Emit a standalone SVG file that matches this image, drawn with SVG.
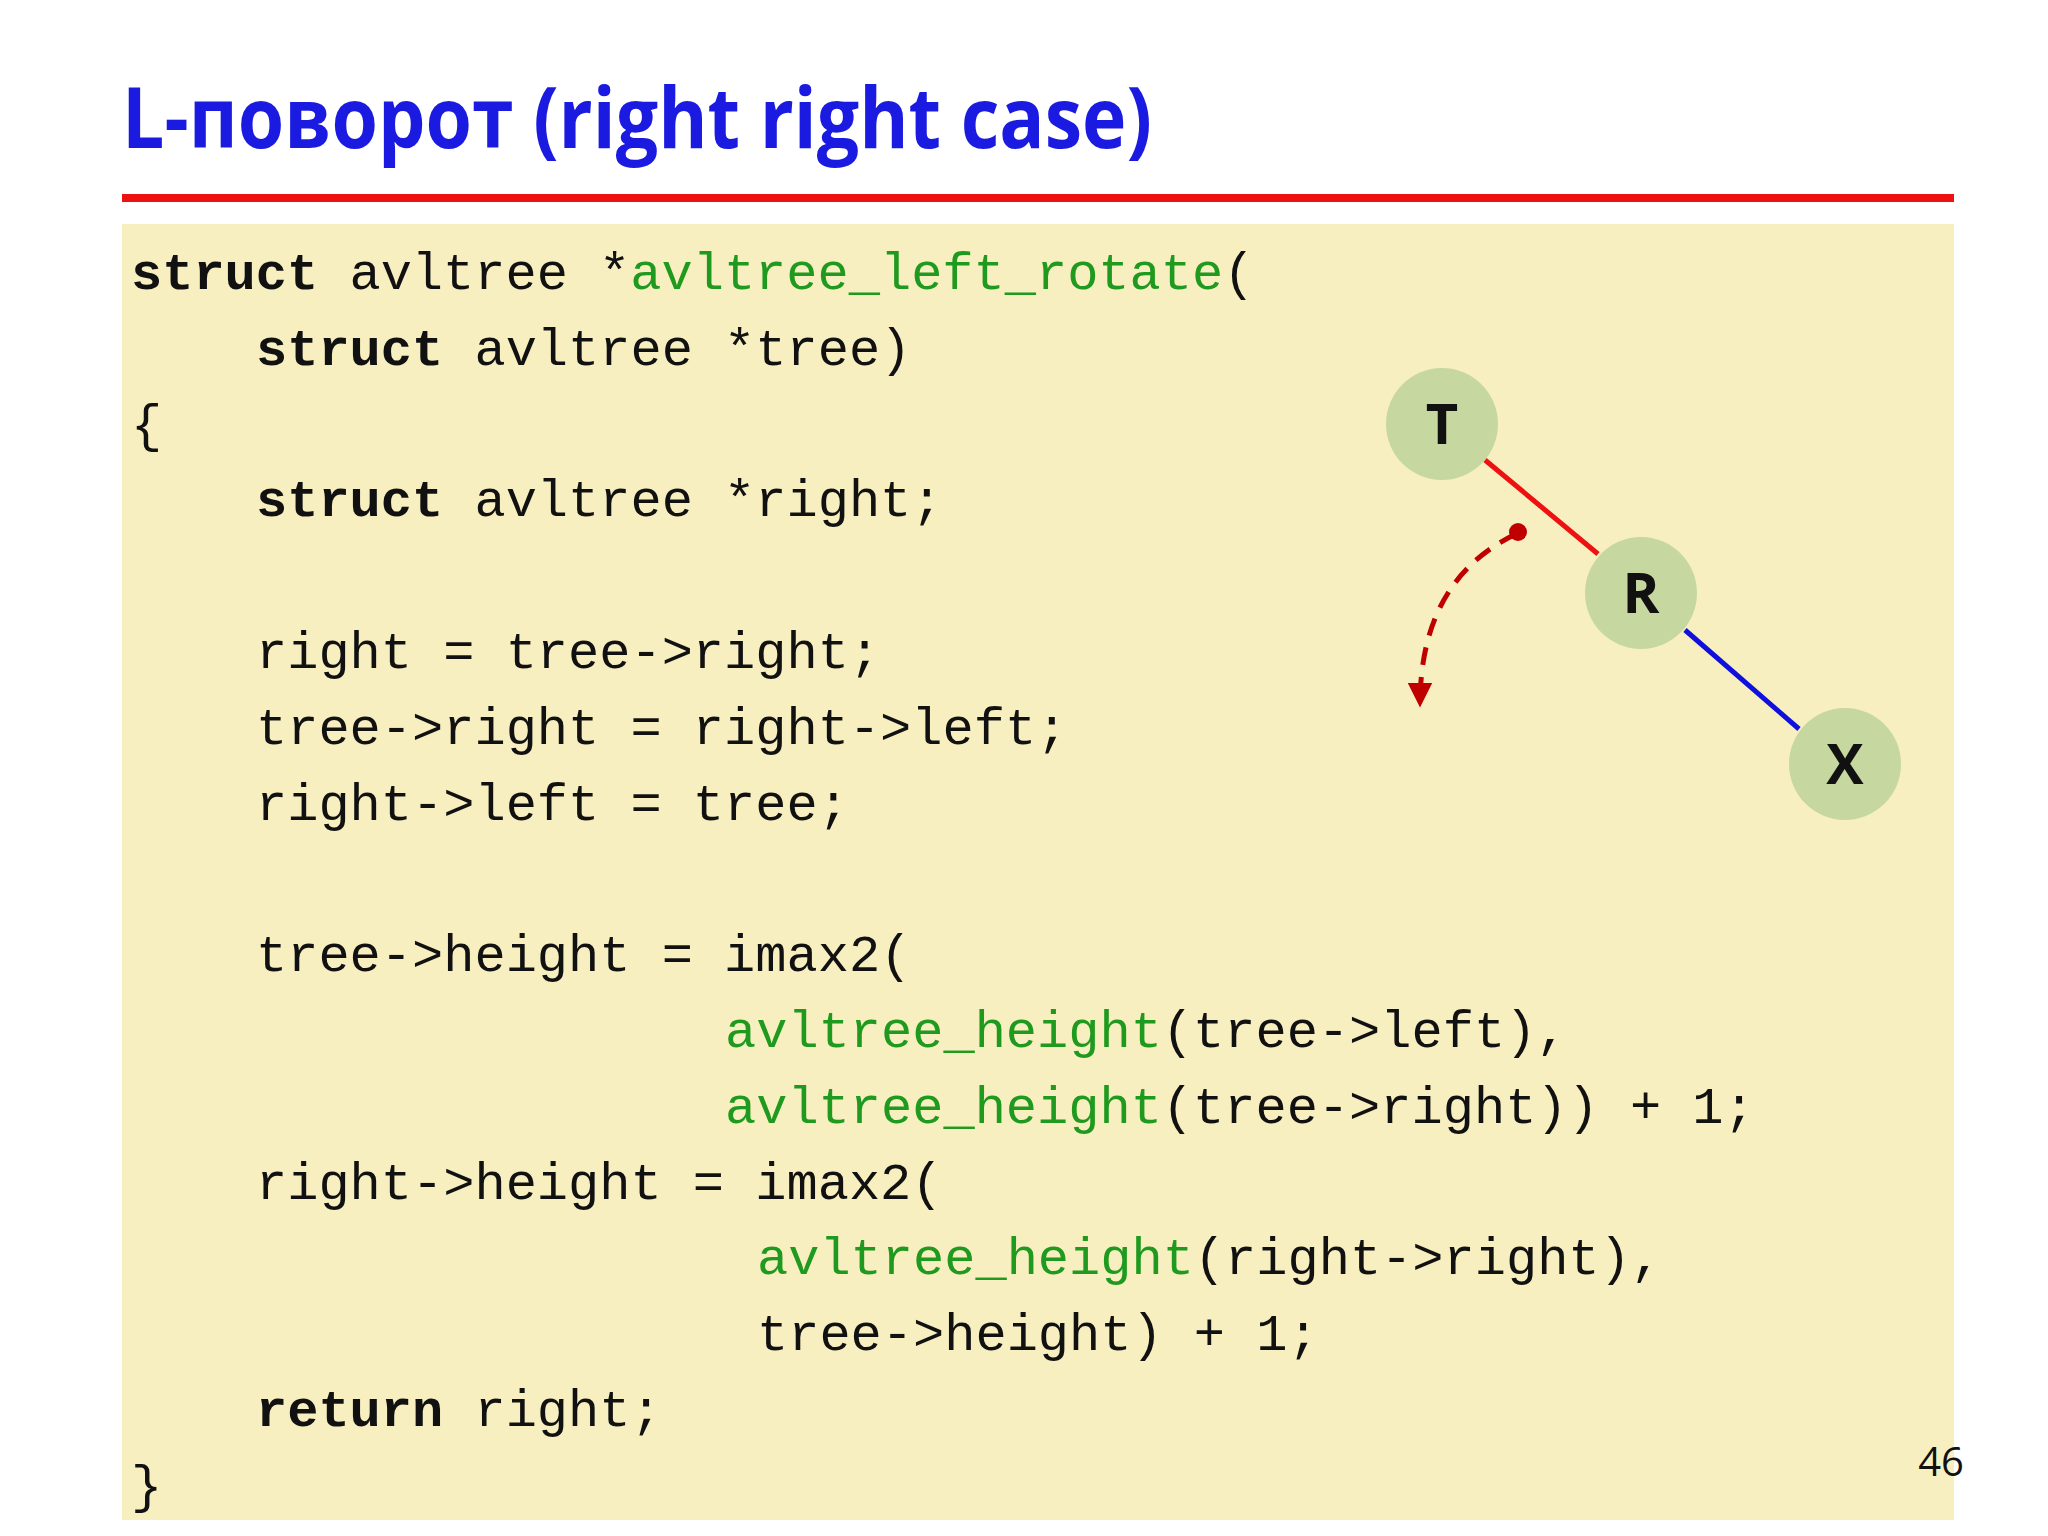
<svg xmlns="http://www.w3.org/2000/svg" width="2048" height="1536" viewBox="0 0 2048 1536">
<style>
.c{font-family:"Liberation Mono",monospace;font-size:52px;fill:#111}
.k{font-weight:bold}
.g{fill:#1f9a1f}
.n{fill:#c6d7a0}
.nl{font-family:"Open Sans","Liberation Sans",sans-serif;font-weight:bold;font-size:56px;text-anchor:middle;fill:#111}
</style>
<defs>
<marker id="ah" viewBox="0 0 10 10" refX="9" refY="5" markerWidth="5" markerHeight="5" orient="auto" markerUnits="strokeWidth"><path d="M0,0L10,5L0,10z" fill="#c00000"/></marker>
</defs>
<rect width="2048" height="1536" fill="#fff"/>
<text x="122" y="148" font-family="Open Sans,Liberation Sans,sans-serif" font-weight="bold" font-size="84" fill="#1a1ae0" textLength="1030" lengthAdjust="spacingAndGlyphs">L-поворот (right right case)</text>
<rect x="122" y="194" width="1832" height="8" fill="#ee1111"/>
<rect x="122" y="224" width="1832" height="1296" fill="#f8efc0"/>
<g id="code">
<text class="c" x="131" y="289"><tspan class="k">struct</tspan> avltree *<tspan class="g">avltree_left_rotate</tspan>(</text>
<text class="c" x="256" y="365"><tspan class="k">struct</tspan> avltree *tree)</text>
<text class="c" x="131" y="441">{</text>
<text class="c" x="256" y="516"><tspan class="k">struct</tspan> avltree *right;</text>
<text class="c" x="256" y="668">right = tree-&gt;right;</text>
<text class="c" x="256" y="744">tree-&gt;right = right-&gt;left;</text>
<text class="c" x="256" y="820">right-&gt;left = tree;</text>
<text class="c" x="256" y="971">tree-&gt;height = imax2(</text>
<text class="c" x="725" y="1047"><tspan class="g">avltree_height</tspan>(tree-&gt;left),</text>
<text class="c" x="725" y="1123"><tspan class="g">avltree_height</tspan>(tree-&gt;right)) + 1;</text>
<text class="c" x="256" y="1199">right-&gt;height = imax2(</text>
<text class="c" x="757" y="1274"><tspan class="g">avltree_height</tspan>(right-&gt;right),</text>
<text class="c" x="757" y="1350">tree-&gt;height) + 1;</text>
<text class="c" x="256" y="1426"><tspan class="k">return</tspan> right;</text>
<text class="c" x="131" y="1502">}</text>
</g>
<g id="connectors">
<line x1="1485" y1="460" x2="1598" y2="554" stroke="#ee1111" stroke-width="5"/>
<line x1="1685" y1="630" x2="1799" y2="729" stroke="#1010dd" stroke-width="5"/>
<path d="M1516,534 Q1420,580 1420,705" fill="none" stroke="#c00000" stroke-width="5" stroke-dasharray="18,12" marker-end="url(#ah)"/>
<circle cx="1518" cy="532" r="9" fill="#c00000"/>
</g>
<g id="T"><circle class="n" cx="1442" cy="424" r="56"/><text class="nl" x="1442" y="444">T</text></g>
<g id="R"><circle class="n" cx="1641" cy="593" r="56"/><text class="nl" x="1641" y="613">R</text></g>
<g id="X"><circle class="n" cx="1845" cy="764" r="56"/><text class="nl" x="1845" y="784">X</text></g>
<text x="1964" y="1476" text-anchor="end" font-family="Open Sans,Liberation Sans,sans-serif" font-size="40" fill="#111">46</text>
</svg>
